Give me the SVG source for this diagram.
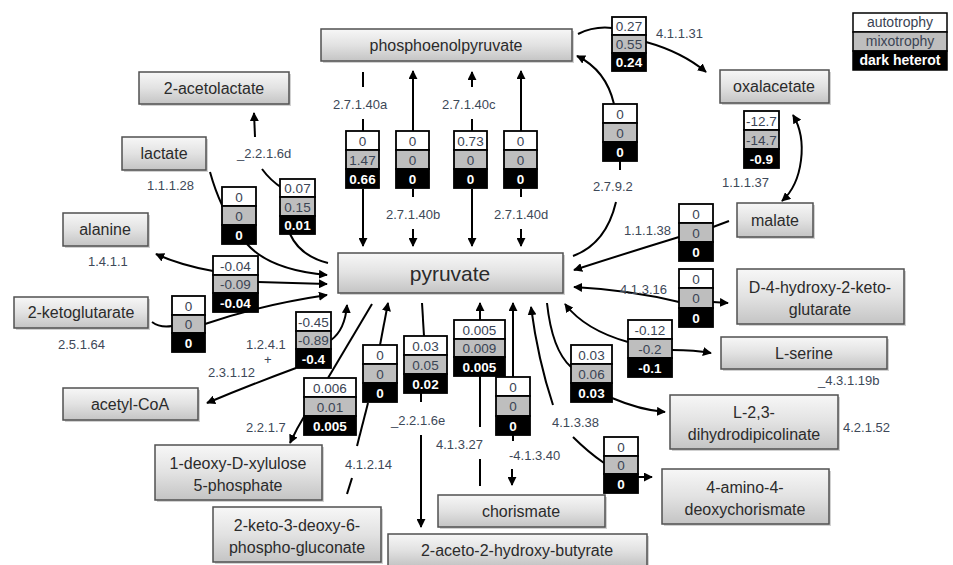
<svg xmlns="http://www.w3.org/2000/svg" width="953" height="565" viewBox="0 0 953 565">
<defs>
<linearGradient id="ng" x1="0" y1="0" x2="0" y2="1">
<stop offset="0" stop-color="#f7f7f7"/>
<stop offset="0.5" stop-color="#e2e2e2"/>
<stop offset="1" stop-color="#c4c4c4"/>
</linearGradient>
<marker id="ah" viewBox="0 0 10 10" refX="9" refY="5" markerWidth="9" markerHeight="9" markerUnits="userSpaceOnUse" orient="auto-start-reverse">
<path d="M0,0 L10,5 L0,10 z" fill="#000"/>
</marker>
</defs>
<style>
.node rect.b{fill:url(#ng);stroke:#505050;stroke-width:1.5}
.node rect.s{fill:#9a9a9a;opacity:0.45}
.node text{font-family:"Liberation Sans",Arial,sans-serif;font-size:16px;fill:#2b2b2b;text-anchor:middle}
.vb rect{stroke:#000;stroke-width:1.8}
.vb .w{fill:#fff}
.vb .g{fill:#bebebe}
.vb .k{fill:#000}
.vb text{font-family:"Liberation Sans",Arial,sans-serif;font-size:13.5px;text-anchor:middle;fill:#3a4454}
.vb text.kt{fill:#fff;font-weight:bold}
.lbl{font-family:"Liberation Sans",Arial,sans-serif;font-size:13px;fill:#3d4858}
.conn path{fill:none;stroke:#000;stroke-width:2}
.conn path.a{marker-end:url(#ah)}
.conn path.aa{marker-start:url(#ah);marker-end:url(#ah)}
.leg text{font-family:"Liberation Sans",Arial,sans-serif;font-size:14px;text-anchor:middle}
</style>
<rect width="953" height="565" fill="#fff"/>

<g id="connectors" class="conn">
<path d="M363 72 L363 87"/>
<path d="M363 119 L363 131"/>
<path class="a" d="M363 189 L363 246"/>
<path class="a" d="M413 131 L413 71"/>
<path d="M413 189 L413 197"/>
<path class="a" d="M413 229 L413 246"/>
<path class="a" d="M472 87 L472 72"/>
<path d="M472 119 L472 131"/>
<path class="a" d="M472 189 L472 246"/>
<path class="a" d="M521 131 L521 71"/>
<path d="M521 189 L521 197"/>
<path class="a" d="M521 229 L521 246"/>
<path class="a" d="M614 104 Q606 70 577 56"/>
<path d="M620 161 L620 170"/>
<path d="M616 202 Q606 244 573 256"/>
<path d="M578 34 Q594 26 612 28"/>
<path class="a" d="M646 42 Q682 52 706 72"/>
<path class="aa" d="M793 115 C808 140 803 182 782 201"/>
<path d="M729 221 L713 227"/>
<path class="a" d="M679 237 Q630 252 574 270"/>
<path class="a" d="M679 302 Q630 290 574 287"/>
<path class="a" d="M713 302 L728 303"/>
<path class="a" d="M628 342 Q585 330 565 304"/>
<path class="a" d="M672 350 Q695 350 711 353"/>
<path d="M547 303 Q552 350 571 367"/>
<path class="a" d="M612 398 Q640 410 665 412"/>
<path class="a" d="M553 405 Q538 360 531 307"/>
<path d="M573 437 Q588 452 604 463"/>
<path class="a" d="M638 477 L652 477"/>
<path class="a" d="M513 377 L513 303"/>
<path d="M513 435 L513 441"/>
<path class="a" d="M512 469 L512 485"/>
<path class="a" d="M480 320 L480 303"/>
<path d="M480 376 L480 427"/>
<path d="M480 459 L480 486"/>
<path d="M422 303 L424 336"/>
<path d="M421 393 L421 402"/>
<path class="a" d="M421 435 L421 527"/>
<path class="a" d="M380 345 L388 303"/>
<path d="M368 403 L357 446"/>
<path d="M352 478 L347 494"/>
<path d="M372 304 L328 378"/>
<path class="a" d="M305 415 Q297 428 290 443"/>
<path class="a" d="M331 340 Q345 330 347 305"/>
<path class="a" d="M296 368 Q250 385 207 403"/>
<path d="M152 322 Q160 328 172 326"/>
<path class="a" d="M205 324 Q260 305 327 295"/>
<path class="a" d="M258 282 L327 284"/>
<path class="a" d="M213 271 Q180 265 156 254"/>
<path d="M210 172 Q215 190 222 205"/>
<path class="a" d="M247 244 Q270 270 327 275"/>
<path class="a" d="M255 137 L254 113"/>
<path d="M262 169 Q270 180 282 188"/>
<path d="M290 234 Q300 256 328 263"/>
</g>

<g id="nodes">
<g id="n-pep" class="node"><rect class="s" x="323" y="31" width="251" height="32"/><rect class="b" x="321" y="29" width="251" height="32"/><text x="446" y="51">phosphoenolpyruvate</text></g>
<g id="n-acetolactate" class="node"><rect class="s" x="141" y="74" width="150" height="32"/><rect class="b" x="139" y="72" width="150" height="32"/><text x="214" y="94">2-acetolactate</text></g>
<g id="n-lactate" class="node"><rect class="s" x="124" y="139" width="84" height="33"/><rect class="b" x="122" y="137" width="84" height="33"/><text x="164" y="159">lactate</text></g>
<g id="n-oxalacetate" class="node"><rect class="s" x="722" y="72" width="109" height="33"/><rect class="b" x="720" y="70" width="109" height="33"/><text x="774" y="92">oxalacetate</text></g>
<g id="n-alanine" class="node"><rect class="s" x="65" y="215" width="85" height="33"/><rect class="b" x="63" y="213" width="85" height="33"/><text x="105" y="235">alanine</text></g>
<g id="n-ketoglutarate" class="node"><rect class="s" x="16" y="299" width="134" height="31"/><rect class="b" x="14" y="297" width="134" height="31"/><text x="81" y="318">2-ketoglutarate</text></g>
<g id="n-pyruvate" class="node"><rect class="s" x="340" y="255" width="225" height="40"/><rect class="b" x="338" y="253" width="225" height="40"/><text x="450" y="281" style="font-size:21px">pyruvate</text></g>
<g id="n-malate" class="node"><rect class="s" x="739" y="205" width="76" height="34"/><rect class="b" x="737" y="203" width="76" height="34"/><text x="775" y="226">malate</text></g>
<g id="n-d4h" class="node"><rect class="s" x="739" y="271" width="167" height="55"/><rect class="b" x="737" y="269" width="167" height="55"/><text x="820" y="293">D-4-hydroxy-2-keto-</text><text x="820" y="315">glutarate</text></g>
<g id="n-serine" class="node"><rect class="s" x="723" y="339" width="166" height="32"/><rect class="b" x="721" y="337" width="166" height="32"/><text x="804" y="359">L-serine</text></g>
<g id="n-acetylcoa" class="node"><rect class="s" x="65" y="390" width="135" height="32"/><rect class="b" x="63" y="388" width="135" height="32"/><text x="130" y="410">acetyl-CoA</text></g>
<g id="n-dxp" class="node"><rect class="s" x="157" y="447" width="167" height="55"/><rect class="b" x="155" y="445" width="167" height="55"/><text x="238" y="469">1-deoxy-D-xylulose</text><text x="238" y="491">5-phosphate</text></g>
<g id="n-kdpg" class="node"><rect class="s" x="215" y="509" width="168" height="55"/><rect class="b" x="213" y="507" width="168" height="55"/><text x="297" y="531">2-keto-3-deoxy-6-</text><text x="297" y="553">phospho-gluconate</text></g>
<g id="n-chorismate" class="node"><rect class="s" x="440" y="497" width="167" height="32"/><rect class="b" x="438" y="495" width="167" height="32"/><text x="521" y="517">chorismate</text></g>
<g id="n-aceto" class="node"><rect class="s" x="390" y="536" width="259" height="32"/><rect class="b" x="388" y="534" width="259" height="32"/><text x="517" y="556">2-aceto-2-hydroxy-butyrate</text></g>
<g id="n-dhdp" class="node"><rect class="s" x="672" y="397" width="168" height="54"/><rect class="b" x="670" y="395" width="168" height="54"/><text x="754" y="418">L-2,3-</text><text x="754" y="440">dihydrodipicolinate</text></g>
<g id="n-adc" class="node"><rect class="s" x="664" y="471" width="167" height="55"/><rect class="b" x="662" y="469" width="167" height="55"/><text x="745" y="493">4-amino-4-</text><text x="745" y="515">deoxychorismate</text></g>
</g>

<g id="values" class="vb">
<g id="v1"><rect class="w" x="346" y="131" width="33" height="19"/><rect class="g" x="346" y="150" width="33" height="19"/><rect class="k" x="346" y="169" width="33" height="19"/><text x="362.5" y="146">0</text><text x="362.5" y="165">1.47</text><text class="kt" x="362.5" y="184">0.66</text></g>
<g id="v2"><rect class="w" x="396" y="131" width="33" height="19"/><rect class="g" x="396" y="150" width="33" height="19"/><rect class="k" x="396" y="169" width="33" height="19"/><text x="412.5" y="146">0</text><text x="412.5" y="165">0</text><text class="kt" x="412.5" y="184">0</text></g>
<g id="v3"><rect class="w" x="454" y="131" width="33" height="19"/><rect class="g" x="454" y="150" width="33" height="19"/><rect class="k" x="454" y="169" width="33" height="19"/><text x="470.5" y="146">0.73</text><text x="470.5" y="165">0</text><text class="kt" x="470.5" y="184">0</text></g>
<g id="v4"><rect class="w" x="504" y="131" width="33" height="19"/><rect class="g" x="504" y="150" width="33" height="19"/><rect class="k" x="504" y="169" width="33" height="19"/><text x="520.5" y="146">0</text><text x="520.5" y="165">0</text><text class="kt" x="520.5" y="184">0</text></g>
<g id="v5"><rect class="w" x="603" y="104" width="34" height="19"/><rect class="g" x="603" y="123" width="34" height="19"/><rect class="k" x="603" y="142" width="34" height="19"/><text x="620" y="119">0</text><text x="620" y="138">0</text><text class="kt" x="620" y="157">0</text></g>
<g id="v6"><rect class="w" x="612" y="17" width="34" height="18"/><rect class="g" x="612" y="35" width="34" height="18"/><rect class="k" x="612" y="53" width="34" height="18"/><text x="629" y="31">0.27</text><text x="629" y="49">0.55</text><text class="kt" x="629" y="67">0.24</text></g>
<g id="v7"><rect class="w" x="744" y="111" width="35" height="19"/><rect class="g" x="744" y="130" width="35" height="19"/><rect class="k" x="744" y="149" width="35" height="19"/><text x="761.5" y="126">-12.7</text><text x="761.5" y="145">-14.7</text><text class="kt" x="761.5" y="164">-0.9</text></g>
<g id="v8"><rect class="w" x="222" y="187" width="34" height="19"/><rect class="g" x="222" y="206" width="34" height="19"/><rect class="k" x="222" y="225" width="34" height="19"/><text x="239" y="202">0</text><text x="239" y="221">0</text><text class="kt" x="239" y="240">0</text></g>
<g id="v9"><rect class="w" x="280" y="179" width="35" height="18"/><rect class="g" x="280" y="197" width="35" height="19"/><rect class="k" x="280" y="216" width="35" height="18"/><text x="297.5" y="193">0.07</text><text x="297.5" y="212">0.15</text><text class="kt" x="297.5" y="230">0.01</text></g>
<g id="v10"><rect class="w" x="213" y="256" width="45" height="19"/><rect class="g" x="213" y="275" width="45" height="18"/><rect class="k" x="213" y="293" width="45" height="19"/><text x="235.5" y="271">-0.04</text><text x="235.5" y="289">-0.09</text><text class="kt" x="235.5" y="308">-0.04</text></g>
<g id="v11"><rect class="w" x="172" y="296" width="33" height="19"/><rect class="g" x="172" y="315" width="33" height="18"/><rect class="k" x="172" y="333" width="33" height="19"/><text x="188.5" y="311">0</text><text x="188.5" y="329">0</text><text class="kt" x="188.5" y="348">0</text></g>
<g id="v12"><rect class="w" x="296" y="312" width="35" height="19"/><rect class="g" x="296" y="331" width="35" height="18"/><rect class="k" x="296" y="349" width="35" height="19"/><text x="313.5" y="327">-0.45</text><text x="313.5" y="345">-0.89</text><text class="kt" x="313.5" y="364">-0.4</text></g>
<g id="v13"><rect class="w" x="304" y="378" width="52" height="19"/><rect class="g" x="304" y="397" width="52" height="19"/><rect class="k" x="304" y="416" width="52" height="19"/><text x="330" y="393">0.006</text><text x="330" y="412">0.01</text><text class="kt" x="330" y="431">0.005</text></g>
<g id="v14"><rect class="w" x="363" y="345" width="34" height="19"/><rect class="g" x="363" y="364" width="34" height="19"/><rect class="k" x="363" y="383" width="34" height="19"/><text x="380" y="360">0</text><text x="380" y="379">0</text><text class="kt" x="380" y="398">0</text></g>
<g id="v15"><rect class="w" x="404" y="336" width="43" height="19"/><rect class="g" x="404" y="355" width="43" height="19"/><rect class="k" x="404" y="374" width="43" height="19"/><text x="425.5" y="351">0.03</text><text x="425.5" y="370">0.05</text><text class="kt" x="425.5" y="389">0.02</text></g>
<g id="v16"><rect class="w" x="454" y="320" width="51" height="19"/><rect class="g" x="454" y="339" width="51" height="18"/><rect class="k" x="454" y="357" width="51" height="19"/><text x="479.5" y="335">0.005</text><text x="479.5" y="353">0.009</text><text class="kt" x="479.5" y="372">0.005</text></g>
<g id="v17"><rect class="w" x="496" y="377" width="34" height="19"/><rect class="g" x="496" y="396" width="34" height="20"/><rect class="k" x="496" y="416" width="34" height="19"/><text x="513" y="392">0</text><text x="513" y="411">0</text><text class="kt" x="513" y="431">0</text></g>
<g id="v18"><rect class="w" x="571" y="345" width="41" height="19"/><rect class="g" x="571" y="364" width="41" height="19"/><rect class="k" x="571" y="383" width="41" height="19"/><text x="591.5" y="360">0.03</text><text x="591.5" y="379">0.06</text><text class="kt" x="591.5" y="398">0.03</text></g>
<g id="v19"><rect class="w" x="604" y="437" width="34" height="19"/><rect class="g" x="604" y="456" width="34" height="18"/><rect class="k" x="604" y="474" width="34" height="19"/><text x="621" y="452">0</text><text x="621" y="470">0</text><text class="kt" x="621" y="489">0</text></g>
<g id="v20"><rect class="w" x="628" y="320" width="44" height="19"/><rect class="g" x="628" y="339" width="44" height="19"/><rect class="k" x="628" y="358" width="44" height="19"/><text x="650" y="335">-0.12</text><text x="650" y="354">-0.2</text><text class="kt" x="650" y="373">-0.1</text></g>
<g id="v21"><rect class="w" x="679" y="204" width="34" height="19"/><rect class="g" x="679" y="223" width="34" height="19"/><rect class="k" x="679" y="242" width="34" height="19"/><text x="696" y="219">0</text><text x="696" y="238">0</text><text class="kt" x="696" y="257">0</text></g>
<g id="v22"><rect class="w" x="679" y="269" width="34" height="19"/><rect class="g" x="679" y="288" width="34" height="20"/><rect class="k" x="679" y="308" width="34" height="19"/><text x="696" y="284">0</text><text x="696" y="303">0</text><text class="kt" x="696" y="323">0</text></g>
</g>

<g id="labels" class="lbl">
<text x="333" y="109">2.7.1.40a</text>
<text x="442" y="109">2.7.1.40c</text>
<text x="386" y="219">2.7.1.40b</text>
<text x="494" y="219">2.7.1.40d</text>
<text x="593" y="191">2.7.9.2</text>
<text x="656" y="38">4.1.1.31</text>
<text x="722" y="187">1.1.1.37</text>
<text x="624" y="235">1.1.1.38</text>
<text x="620" y="294">4.1.3.16</text>
<text x="818" y="385">_4.3.1.19b</text>
<text x="843" y="432">4.2.1.52</text>
<text x="237" y="158">_2.2.1.6d</text>
<text x="147" y="190">1.1.1.28</text>
<text x="88" y="266">1.4.1.1</text>
<text x="58" y="349">2.5.1.64</text>
<text x="246" y="349">1.2.4.1</text>
<text x="264" y="364">+</text>
<text x="208" y="377">2.3.1.12</text>
<text x="246" y="432">2.2.1.7</text>
<text x="345" y="469">4.1.2.14</text>
<text x="391" y="425">_2.2.1.6e</text>
<text x="436" y="449">4.1.3.27</text>
<text x="509" y="460">-4.1.3.40</text>
<text x="552" y="427">4.1.3.38</text>
</g>

<g id="legend" class="leg">
<rect x="853" y="13" width="94" height="19" fill="#fff" stroke="#000" stroke-width="1.5"/>
<rect x="853" y="32" width="94" height="19" fill="#bebebe" stroke="#000" stroke-width="1.5"/>
<rect x="853" y="51" width="94" height="19" fill="#000" stroke="#000" stroke-width="1.5"/>
<text x="900" y="27" fill="#3a4454">autotrophy</text>
<text x="900" y="46" fill="#3a4454">mixotrophy</text>
<text x="900" y="65" fill="#fff" font-weight="bold">dark heterot</text>
</g>
</svg>
